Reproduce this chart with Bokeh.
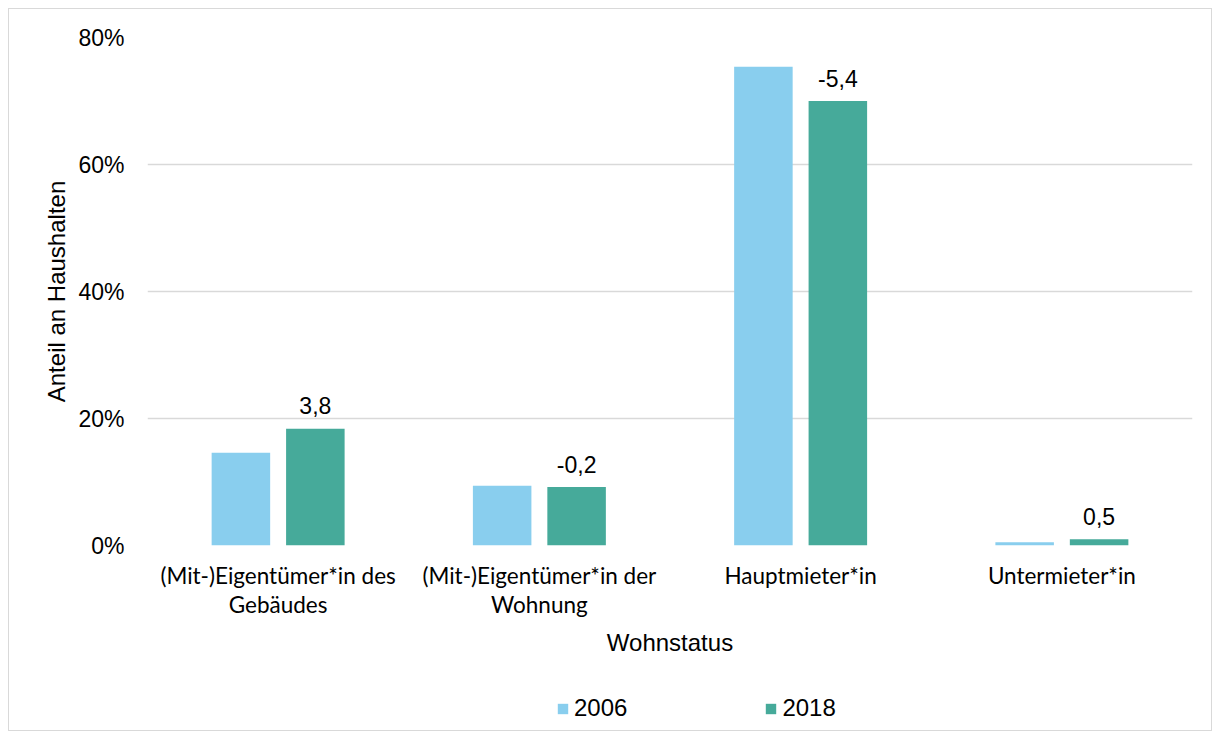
from bokeh.plotting import figure
from bokeh.layouts import column
from bokeh.models import ColumnDataSource, FactorRange, FixedTicker, PrintfTickFormatter, Legend, LegendItem
from bokeh.transform import dodge
from bokeh.core.properties import value
from bokeh.embed import file_html
from bokeh.resources import INLINE

categories = ["(Mit-)Eigentümer*in des\nGebäudes", "(Mit-)Eigentümer*in der\nWohnung",
              "Hauptmieter*in", "Untermieter*in"]
years = ["2006", "2018"]
share_2006 = [14.6, 9.4, 75.4, 0.5]
share_2018 = [18.4, 9.2, 70.0, 1.0]
change_labels = ["3,8", "-0,2", "-5,4", "0,5"]
y_ticks = [0, 20, 40, 60, 80]

c2006 = "#89CEEE"
c2018 = "#46AA9A"
grid_col = "#d9d9d9"
arial = "Liberation Sans"

src = ColumnDataSource(dict(cat=categories, v2006=share_2006, v2018=share_2018, lab=change_labels))

p = figure(width=1202, height=666, x_range=FactorRange(*categories), y_range=(0, 80),
           output_backend="svg", toolbar_location=None,
           min_border_left=138, min_border_right=19, min_border_top=28, min_border_bottom=130)
p.outline_line_color = None
p.background_fill_color = "white"
p.border_fill_color = "white"

w = 0.224
off = 0.1425
r1 = p.vbar(x=dodge("cat", -off, range=p.x_range), top="v2006", width=w, source=src,
            fill_color=c2006, line_color=None)
r2 = p.vbar(x=dodge("cat", off, range=p.x_range), top="v2018", width=w, source=src,
            fill_color=c2018, line_color=None)
p.text(x=dodge("cat", off, range=p.x_range), y="v2018", text="lab", source=src,
       text_align="center", text_baseline="alphabetic", y_offset=-23,
       text_font=value(arial), text_font_size="23px", text_color="#000000")

# grid
p.xgrid.grid_line_color = None
p.ygrid.ticker = FixedTicker(ticks=y_ticks)
p.ygrid.grid_line_color = grid_col
p.ygrid.grid_line_width = 1.3

# y axis
p.yaxis.ticker = FixedTicker(ticks=y_ticks)
p.yaxis.formatter = PrintfTickFormatter(format="%d%%")
p.yaxis.axis_line_color = None
p.yaxis.major_tick_line_color = None
p.yaxis.minor_tick_line_color = None
p.yaxis.major_label_standoff = 17
p.yaxis.major_label_text_font = arial
p.yaxis.major_label_text_font_size = "23px"
p.yaxis.major_label_text_color = "#000000"
p.yaxis.axis_label = "Anteil an Haushalten"
p.yaxis.axis_label_text_font = arial
p.yaxis.axis_label_text_font_size = "24px"
p.yaxis.axis_label_text_font_style = "normal"
p.yaxis.axis_label_text_color = "#000000"
p.yaxis.axis_label_standoff = 5

# x axis
p.xaxis.axis_line_color = None
p.xaxis.major_tick_line_color = None
p.xaxis.minor_tick_line_color = None
p.xaxis.major_label_standoff = 10
p.xaxis.major_label_text_font = "Lato"
p.xaxis.major_label_text_font_size = "22.5px"
p.xaxis.major_label_text_color = "#000000"
p.xaxis.major_label_text_line_height = 1.11
p.xaxis.axis_label = "Wohnstatus"
p.xaxis.axis_label_text_font = arial
p.xaxis.axis_label_text_font_size = "24px"
p.xaxis.axis_label_text_font_style = "normal"
p.xaxis.axis_label_text_color = "#000000"
p.xaxis.axis_label_standoff = 8

# legend strip below the chart (swatch renderers have zero height, so only the legend shows)
pl = figure(width=1202, height=55, x_range=(0, 1), y_range=(0, 1),
            output_backend="svg", toolbar_location=None,
            min_border_left=0, min_border_right=0, min_border_top=0, min_border_bottom=0)
pl.axis.visible = False
pl.grid.visible = False
pl.outline_line_color = None
pl.border_fill_color = "white"
pl.background_fill_color = "white"
l1 = pl.vbar(x=[0.5], top=[0], bottom=[0], width=0.01, fill_color=c2006, line_color=None)
l2 = pl.vbar(x=[0.5], top=[0], bottom=[0], width=0.01, fill_color=c2018, line_color=None)
legend = Legend(items=[LegendItem(label=years[0], renderers=[l1]),
                       LegendItem(label=years[1], renderers=[l2])],
                orientation="horizontal", location=(409, 8),
                glyph_width=13, glyph_height=13, label_standoff=5, spacing=137,
                padding=0, margin=0, border_line_color=None,
                label_text_font=arial, label_text_font_size="24px", label_text_color="#000000",
                background_fill_alpha=0)
pl.add_layout(legend, "center")

layout = column(p, pl, spacing=0)
layout.styles = {"border": "1px solid #d9d9d9", "margin-left": "8px", "margin-top": "8px"}

open("out.html", "w").write(file_html(layout, INLINE))
